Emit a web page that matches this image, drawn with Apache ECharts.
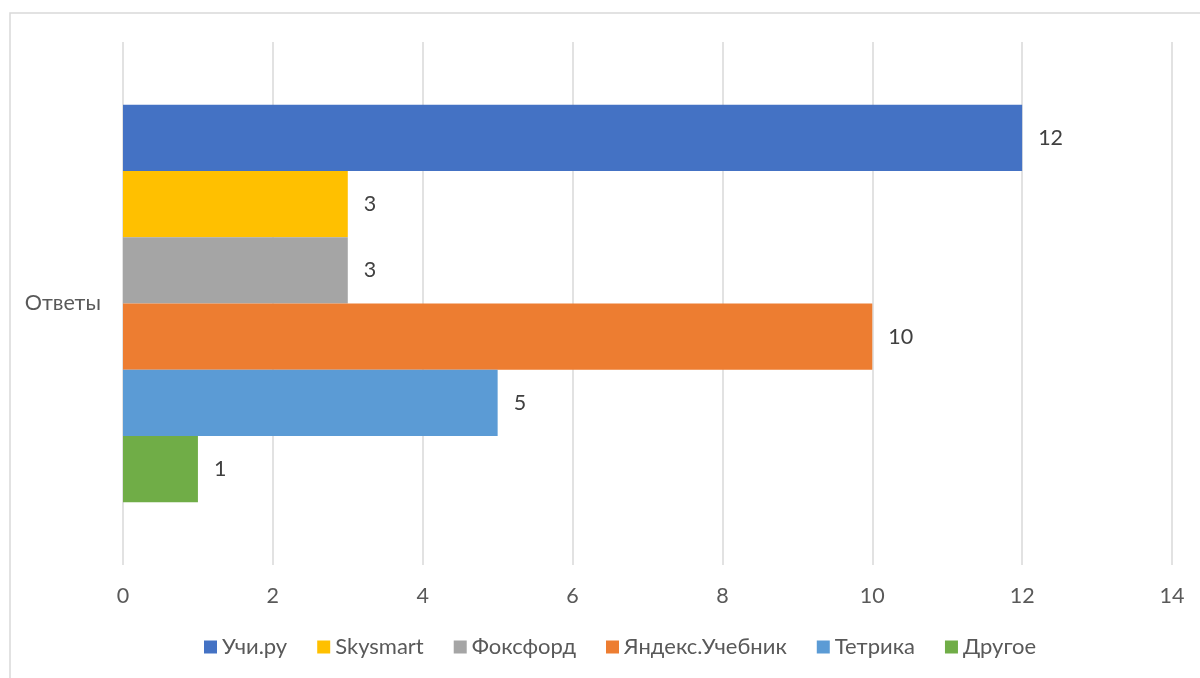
<!DOCTYPE html>
<html><head><meta charset="utf-8">
<script src="https://cdn.jsdelivr.net/npm/echarts@6/dist/echarts.min.js"></script>
<style>html,body{margin:0;padding:0;background:#fff}#c{width:1200px;height:678px}</style>
</head><body><div id="c"></div>
<script>
const categories = ['Ответы'];
const seriesNames = ['Учи.ру', 'Skysmart', 'Фоксфорд', 'Яндекс.Учебник', 'Тетрика', 'Другое'];
const seriesValues = [[12], [3], [3], [10], [5], [1]];
const colors = ['#4472C4', '#FFC000', '#A5A5A5', '#ED7D31', '#5B9BD5', '#70AD47'];
const xTicks = [0, 2, 4, 6, 8, 10, 12, 14];

const font = 'Lato, "Noto Sans", sans-serif';
const fs = 21.5;
const chart = echarts.init(document.getElementById('c'));
chart.setOption({
  animation: false,
  color: colors,
  graphic: [{type: 'rect', shape: {x: 10, y: 13, width: 1200, height: 700},
    style: {fill: 'none', stroke: '#d9d9d9', lineWidth: 1.5}, silent: true}],
  grid: {left: 123, right: 28, top: 42, bottom: 113},
  legend: {bottom: 15, left: 199, itemWidth: 13, itemHeight: 13, itemGap: 30,
    icon: 'rect', textStyle: {color: '#595959', fontSize: 22, fontFamily: font}},
  xAxis: {type: 'value', min: 0, max: 14, interval: 2,
    axisLine: {show: false}, axisTick: {show: false},
    splitLine: {lineStyle: {color: '#d9d9d9', width: 1.5}},
    axisLabel: {color: '#595959', fontSize: fs, fontFamily: font, margin: 20,
      formatter: v => xTicks.includes(v) ? String(v) : ''}},
  yAxis: {type: 'category', data: categories, inverse: true,
    axisLine: {show: false}, axisTick: {show: false},
    axisLabel: {color: '#595959', fontSize: fs, fontFamily: font, margin: 22}},
  series: seriesNames.map((n, i) => ({
    name: n, type: 'bar', data: seriesValues[i], barGap: '0%', barCategoryGap: '24%',
    label: {show: true, position: 'right', distance: 16, color: '#404040', fontSize: fs, fontFamily: font}
  }))
});
</script></body></html>
